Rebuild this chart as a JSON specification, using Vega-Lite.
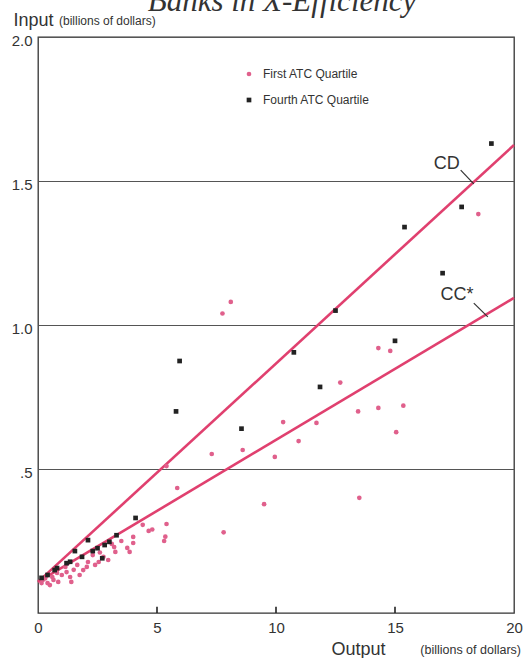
{
  "$schema": "https://vega.github.io/schema/vega-lite/v6.json",
  "autosize": {"type": "none"},
  "width": 476,
  "height": 576,
  "padding": {"left": 38, "top": 37, "right": 10, "bottom": 45},
  "background": "white",
  "title": {"text": "Banks in X-Efficiency", "font": "Liberation Serif", "fontStyle": "italic", "fontSize": 31, "fontWeight": "normal", "color": "#333", "anchor": "middle", "frame": "group", "baseline": "alphabetic", "offset": -31, "dx": 6},
  "config": {
    "view": {"stroke": "#333", "strokeWidth": 1.3},
    "font": "Liberation Sans"
  },
  "encoding": {
    "x": {"field": "x", "type": "quantitative", "scale": {"domain": [0, 20], "nice": false, "zero": true},
      "axis": {"values": [0, 5, 10, 15, 20], "domain": false, "grid": false, "ticks": false,
        "labelFont": "Liberation Sans", "labelFontSize": 15, "labelColor": "#333", "labelPadding": 7, "labelFlush": false,
        "title": "Output", "titleFont": "Liberation Sans", "titleFontSize": 18, "titleFontWeight": "normal", "titleColor": "#333",
        "titleAnchor": "start", "titleAlign": "right", "titleBaseline": "alphabetic", "titleX": 347, "titleY": 41}},
    "y": {"field": "y", "type": "quantitative", "scale": {"domain": [0, 2], "nice": false},
      "axis": {"values": [0.5, 1, 1.5, 2], "domain": false, "ticks": false, "grid": true, "gridColor": "#555", "gridWidth": 1,
        "labelExpr": "datum.value == 0.5 ? '.5' : format(datum.value, '.1f')", "labelFont": "Liberation Sans", "labelFontSize": 15, "labelColor": "#333", "labelPadding": 6, "labelOffset": 3,
        "title": "Input", "titleFont": "Liberation Sans", "titleFontSize": 18, "titleFontWeight": "normal", "titleColor": "#333",
        "titleAngle": 0, "titleAlign": "left", "titleBaseline": "alphabetic", "titleX": -25, "titleY": -12}}
  },
  "layer": [
    {
      "data": {"values": [{"x": 5, "y": 0}, {"x": 10, "y": 0}, {"x": 15, "y": 0}]},
      "mark": {"type": "rule", "color": "#222", "strokeWidth": 1.6, "opacity": 1, "clip": true},
      "encoding": {"y2": {"datum": 0.022}}
    },
    {
      "data": {"values": [
        {"series": "CD", "x": 0, "y": 0.108}, {"series": "CD", "x": 20, "y": 1.625},
        {"series": "CC*", "x": 0, "y": 0.108}, {"series": "CC*", "x": 20, "y": 1.094}
      ]},
      "mark": {"type": "line", "color": "#e0406f", "strokeWidth": 2.6},
      "encoding": {"detail": {"field": "series"}}
    },
    {
      "data": {"values": [
        {"group": "First ATC Quartile", "x": 18.5, "y": 1.385},
        {"group": "First ATC Quartile", "x": 8.1, "y": 1.08},
        {"group": "First ATC Quartile", "x": 7.75, "y": 1.04},
        {"group": "First ATC Quartile", "x": 14.3, "y": 0.92},
        {"group": "First ATC Quartile", "x": 14.8, "y": 0.91},
        {"group": "First ATC Quartile", "x": 12.7, "y": 0.80},
        {"group": "First ATC Quartile", "x": 15.35, "y": 0.72},
        {"group": "First ATC Quartile", "x": 14.3, "y": 0.712},
        {"group": "First ATC Quartile", "x": 13.45, "y": 0.70},
        {"group": "First ATC Quartile", "x": 10.3, "y": 0.663},
        {"group": "First ATC Quartile", "x": 11.7, "y": 0.66},
        {"group": "First ATC Quartile", "x": 15.05, "y": 0.628},
        {"group": "First ATC Quartile", "x": 10.95, "y": 0.597},
        {"group": "First ATC Quartile", "x": 8.6, "y": 0.566},
        {"group": "First ATC Quartile", "x": 7.3, "y": 0.552},
        {"group": "First ATC Quartile", "x": 9.95, "y": 0.542},
        {"group": "First ATC Quartile", "x": 5.4, "y": 0.51},
        {"group": "First ATC Quartile", "x": 5.85, "y": 0.434},
        {"group": "First ATC Quartile", "x": 9.5, "y": 0.378},
        {"group": "First ATC Quartile", "x": 13.5, "y": 0.40},
        {"group": "First ATC Quartile", "x": 7.8, "y": 0.28},
        {"group": "First ATC Quartile", "x": 5.4, "y": 0.309},
        {"group": "First ATC Quartile", "x": 5.35, "y": 0.265},
        {"group": "First ATC Quartile", "x": 5.3, "y": 0.25},
        {"group": "First ATC Quartile", "x": 4.8, "y": 0.29},
        {"group": "First ATC Quartile", "x": 4.65, "y": 0.285},
        {"group": "First ATC Quartile", "x": 4.4, "y": 0.306},
        {"group": "First ATC Quartile", "x": 4.0, "y": 0.264},
        {"group": "First ATC Quartile", "x": 4.0, "y": 0.243},
        {"group": "First ATC Quartile", "x": 3.75, "y": 0.226},
        {"group": "First ATC Quartile", "x": 3.85, "y": 0.212},
        {"group": "First ATC Quartile", "x": 2.95, "y": 0.184},
        {"group": "First ATC Quartile", "x": 3.2, "y": 0.229},
        {"group": "First ATC Quartile", "x": 2.55, "y": 0.177},
        {"group": "First ATC Quartile", "x": 2.3, "y": 0.201},
        {"group": "First ATC Quartile", "x": 2.05, "y": 0.16},
        {"group": "First ATC Quartile", "x": 1.75, "y": 0.132},
        {"group": "First ATC Quartile", "x": 1.4, "y": 0.108},
        {"group": "First ATC Quartile", "x": 1.2, "y": 0.142},
        {"group": "First ATC Quartile", "x": 1.0, "y": 0.132},
        {"group": "First ATC Quartile", "x": 0.65, "y": 0.115},
        {"group": "First ATC Quartile", "x": 0.4, "y": 0.104},
        {"group": "First ATC Quartile", "x": 0.15, "y": 0.104},
        {"group": "First ATC Quartile", "x": 0.5, "y": 0.097},
        {"group": "First ATC Quartile", "x": 0.85, "y": 0.108},
        {"group": "First ATC Quartile", "x": 1.65, "y": 0.167},
        {"group": "First ATC Quartile", "x": 1.15, "y": 0.16},
        {"group": "First ATC Quartile", "x": 0.8, "y": 0.139},
        {"group": "First ATC Quartile", "x": 1.9, "y": 0.149},
        {"group": "First ATC Quartile", "x": 2.4, "y": 0.167},
        {"group": "First ATC Quartile", "x": 2.75, "y": 0.195},
        {"group": "First ATC Quartile", "x": 3.25, "y": 0.212},
        {"group": "First ATC Quartile", "x": 0.2, "y": 0.115},
        {"group": "First ATC Quartile", "x": 1.35, "y": 0.125},
        {"group": "First ATC Quartile", "x": 2.1, "y": 0.177},
        {"group": "First ATC Quartile", "x": 0.3, "y": 0.12},
        {"group": "First ATC Quartile", "x": 0.6, "y": 0.125},
        {"group": "First ATC Quartile", "x": 1.5, "y": 0.15},
        {"group": "First ATC Quartile", "x": 2.6, "y": 0.21},
        {"group": "First ATC Quartile", "x": 3.1, "y": 0.24},
        {"group": "First ATC Quartile", "x": 3.5, "y": 0.25},
        {"group": "Fourth ATC Quartile", "x": 19.05, "y": 1.63},
        {"group": "Fourth ATC Quartile", "x": 17.8, "y": 1.41},
        {"group": "Fourth ATC Quartile", "x": 17.0, "y": 1.18},
        {"group": "Fourth ATC Quartile", "x": 15.4, "y": 1.34},
        {"group": "Fourth ATC Quartile", "x": 15.0, "y": 0.945},
        {"group": "Fourth ATC Quartile", "x": 12.5, "y": 1.05},
        {"group": "Fourth ATC Quartile", "x": 10.75, "y": 0.905},
        {"group": "Fourth ATC Quartile", "x": 11.85, "y": 0.785},
        {"group": "Fourth ATC Quartile", "x": 5.95, "y": 0.875},
        {"group": "Fourth ATC Quartile", "x": 5.8, "y": 0.70},
        {"group": "Fourth ATC Quartile", "x": 8.55, "y": 0.64},
        {"group": "Fourth ATC Quartile", "x": 4.1, "y": 0.33},
        {"group": "Fourth ATC Quartile", "x": 2.1, "y": 0.253},
        {"group": "Fourth ATC Quartile", "x": 1.55, "y": 0.215},
        {"group": "Fourth ATC Quartile", "x": 2.7, "y": 0.19},
        {"group": "Fourth ATC Quartile", "x": 3.3, "y": 0.27},
        {"group": "Fourth ATC Quartile", "x": 3.0, "y": 0.247},
        {"group": "Fourth ATC Quartile", "x": 2.8, "y": 0.236},
        {"group": "Fourth ATC Quartile", "x": 2.5, "y": 0.225},
        {"group": "Fourth ATC Quartile", "x": 2.3, "y": 0.215},
        {"group": "Fourth ATC Quartile", "x": 1.85, "y": 0.195},
        {"group": "Fourth ATC Quartile", "x": 1.35, "y": 0.178},
        {"group": "Fourth ATC Quartile", "x": 1.2, "y": 0.173},
        {"group": "Fourth ATC Quartile", "x": 0.8, "y": 0.156},
        {"group": "Fourth ATC Quartile", "x": 0.7, "y": 0.149},
        {"group": "Fourth ATC Quartile", "x": 0.4, "y": 0.132},
        {"group": "Fourth ATC Quartile", "x": 0.15, "y": 0.122}
      ]},
      "mark": {"type": "point", "filled": true, "opacity": 1, "size": 22},
      "encoding": {
        "color": {"field": "group", "type": "nominal",
          "scale": {"domain": ["First ATC Quartile", "Fourth ATC Quartile"], "range": ["#e0608c", "#222222"]},
          "legend": {"orient": "none", "legendX": 205, "legendY": 31, "title": null, "labelFont": "Liberation Sans", "labelFontSize": 12, "labelColor": "#333", "symbolSize": 22, "rowPadding": 14, "labelOffset": 8}},
        "shape": {"field": "group", "type": "nominal",
          "scale": {"domain": ["First ATC Quartile", "Fourth ATC Quartile"], "range": ["circle", "square"]},
          "legend": null}
      }
    },
    {
      "data": {"values": [
        {"x": 17.76, "y": 1.538, "x2": 18.31, "y2": 1.49},
        {"x": 18.31, "y": 1.076, "x2": 18.9, "y2": 1.028}
      ]},
      "mark": {"type": "rule", "color": "#333", "strokeWidth": 1.2},
      "encoding": {"x2": {"field": "x2"}, "y2": {"field": "y2"}}
    },
    {
      "data": {"values": [
        {"x": 17.17, "y": 1.559, "label": "CD"},
        {"x": 17.6, "y": 1.104, "label": "CC*"}
      ]},
      "mark": {"type": "text", "font": "Liberation Sans", "fontSize": 18, "color": "#333", "align": "center", "baseline": "middle"},
      "encoding": {"text": {"field": "label"}}
    },
    {
      "data": {"values": [{"x": 0, "y": 2.0, "label": "(billions of dollars)"}]},
      "mark": {"type": "text", "font": "Liberation Sans", "fontSize": 12, "color": "#333", "align": "left", "baseline": "alphabetic", "dx": 21, "dy": -12},
      "encoding": {"text": {"field": "label"}}
    },
    {
      "data": {"values": [{"x": 20, "y": 0, "label": "(billions of dollars)"}]},
      "mark": {"type": "text", "font": "Liberation Sans", "fontSize": 12.5, "color": "#333", "align": "right", "baseline": "alphabetic", "dx": 7, "dy": 41},
      "encoding": {"text": {"field": "label"}}
    }
  ]
}
